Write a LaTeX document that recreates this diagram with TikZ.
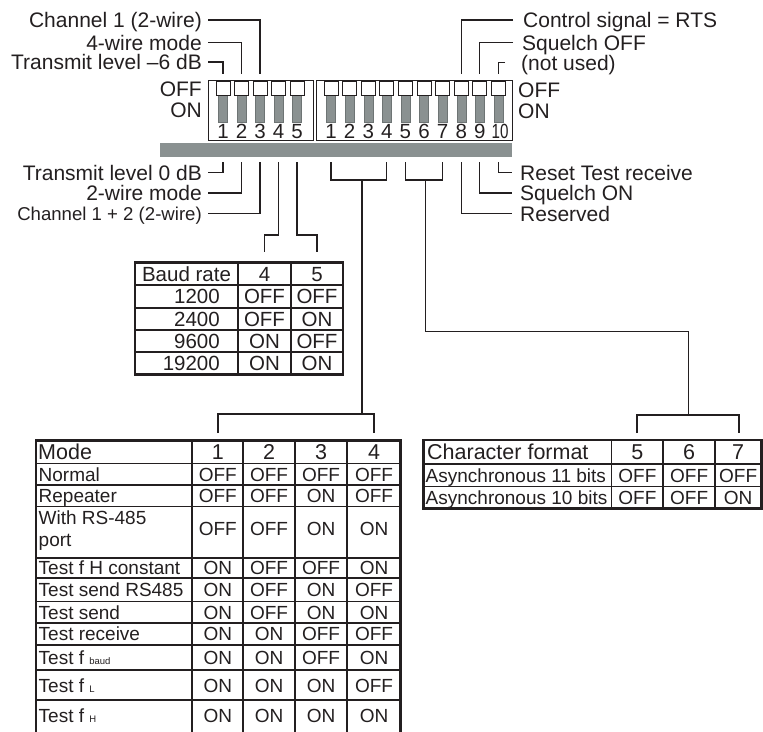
\documentclass[tikz,border=0pt]{standalone}
\usepackage{fontspec}
\setmainfont{Liberation Sans}
\definecolor{ink}{HTML}{231F20}
\definecolor{swgray}{HTML}{8A9191}
\newcommand\fsLab{\fontsize{21}{25}\selectfont}
\newcommand\fsSmallLab{\fontsize{18.6}{22}\selectfont}
\newcommand\fsNum{\fontsize{20.5}{24}\selectfont}
\newcommand\fsBaud{\fontsize{20.5}{24}\selectfont}
\newcommand\fsHead{\fontsize{21.5}{25}\selectfont}
\newcommand\fsCell{\fontsize{19}{23}\selectfont}
\newcommand\fsTiny{\fontsize{9.5}{11}\selectfont}
\tikzset{
  lab/.style={inner sep=0pt, font=\fsLab, text=ink},
  conn/.style={draw=ink, line width=1.3pt},
  boxline/.style={draw=ink, line width=0.9pt},
  swhead/.style={fill=white, draw=ink, line width=0.8pt},
  swlever/.style={fill=swgray, draw=swgray!80!black, line width=0.4pt},
  tabouter/.style={draw=ink, line width=2.5pt},
  tabinner/.style={draw=ink, line width=1.8pt},
  cell/.style={inner sep=0pt, anchor=base, text=ink},
  rowlab/.style={inner sep=0pt, anchor=base west, text=ink},
}
\begin{document}
\begin{tikzpicture}[x=1pt,y=-1pt]
\useasboundingbox (0,0) rectangle (763,731);

% ---------------- DIP switch blocks ----------------
\draw[boxline] (208,80) rectangle (313,140);
\draw[boxline] (316,80) rectangle (512,140);
\fill[swgray] (160,143) rectangle (512,157);

\foreach \x [count=\i] in {223,241.5,260,278.5,297}{
  \fill[swlever] (\x-4.5,95) rectangle (\x+4.5,122.5);
  \draw[swhead] (\x-7,81) rectangle (\x+7,95);
  \node[cell, font=\fsNum] (na\i) at (\x,138.2) {\i};
  \coordinate (aT\i) at (\x,74);
  \coordinate (aB\i) at (\x,162);
}
\foreach \x [count=\i] in {331,349.6,368.2,386.8,405.4,424,442.6,461.2,479.8,498.4}{
  \fill[swlever] (\x-4.5,95) rectangle (\x+4.5,122.5);
  \draw[swhead] (\x-7,81) rectangle (\x+7,95);
  \coordinate (bT\i) at (\x,74);
  \coordinate (bB\i) at (\x,162);
}
\foreach \x [count=\i] in {331,349.6,368.2,386.8,405.4,424,442.6,461.2,479.8}{
  \node[cell, font=\fsNum] (nb\i) at (\x,138.2) {\i};
}
\node[cell, font=\fsNum] (nb10) at (500,138.2) {\scalebox{0.74}[1]{10}};

\node[lab, anchor=base east] (offL) at (202,96.5) {OFF};
\node[lab, anchor=base east] (onL) at (202,117.5) {ON};
\node[lab, anchor=base west] (offR) at (518,97.5) {OFF};
\node[lab, anchor=base west] (onR) at (518,118.5) {ON};

% ---------------- labels, left ----------------
\node[lab, anchor=base east] (L1) at (202,27.5) {Channel 1 (2-wire)};
\node[lab, anchor=base east] (L2) at (202,50) {4-wire mode};
\node[lab, anchor=base east] (L3) at (202,69.5) {Transmit level –6 dB};
\node[lab, anchor=base east] (L4) at (202,180) {Transmit level 0 dB};
\node[lab, anchor=base east] (L5) at (202,200.5) {2-wire mode};
\node[lab, anchor=base east, font=\fsSmallLab] (L6) at (202,220.2) {Channel 1 + 2 (2-wire)};
\coordinate (cL1) at (208,20);
\coordinate (cL2) at (208,42.5);
\coordinate (cL3) at (208,62);
\coordinate (cL4) at (208,172.5);
\coordinate (cL5) at (208,193);
\coordinate (cL6) at (208,213.5);
\draw[conn] (cL1) -| (aT3);
\draw[conn] (cL2) -| (aT2);
\draw[conn] (cL3) -| (aT1);
\draw[conn] (aB1) |- (cL4);
\draw[conn] (aB2) |- (cL5);
\draw[conn] (aB3) |- (cL6);

% ---------------- labels, right ----------------
\node[lab, anchor=base west] (R1) at (523,27.5) {Control signal = RTS};
\node[lab, anchor=base west] (R2) at (522,50) {Squelch OFF};
\node[lab, anchor=base west] (R3) at (521,70) {(not used)};
\node[lab, anchor=base west] (R4) at (520,180) {Reset Test receive};
\node[lab, anchor=base west] (R5) at (520,200.5) {Squelch ON};
\node[lab, anchor=base west] (R6) at (520,221) {Reserved};
\coordinate (cR1) at (513,20);
\coordinate (cR2) at (513,42.5);
\coordinate (cR3) at (505,62.5);
\coordinate (cR4) at (512,172.5);
\coordinate (cR5) at (512,193);
\coordinate (cR6) at (512,213.5);
\draw[conn] (cR1) -| (bT8);
\draw[conn] (cR2) -| (bT9);
\draw[conn] (cR3) -| (bT10);
\draw[conn] (bB10) |- (cR4);
\draw[conn] (bB9) |- (cR5);
\draw[conn] (bB8) |- (cR6);

% ---------------- baud rate connectors ----------------
\coordinate (bd4) at (264.5,252);
\coordinate (bd5) at (317,252);
\draw[conn] (aB4) |- (264.5,235) -- (bd4);
\draw[conn] (aB5) |- (317,235) -- (bd5);

% ---------------- mode connectors ----------------
\coordinate (m1) at (218,433);
\coordinate (m4) at (374,433);
\coordinate (mstem) at (362,180);
\draw[conn] (bB1) |- (bB4 |- mstem) -- (bB4);
\draw[conn] (mstem) -- (362,414);
\draw[conn] (m1) |- (m4 |- 0,414) -- (m4);

% ---------------- character format connectors ----------------
\coordinate (c5) at (637,433);
\coordinate (c7) at (739,433);
\coordinate (cstem) at (425.5,180);
\draw[conn] (bB5) |- (bB7 |- cstem) -- (bB7);
\draw[conn] (cstem) |- (688.5,331.5) -- (688.5,415);
\draw[conn] (c5) |- (c7 |- 0,415) -- (c7);

% ---------------- baud rate table ----------------
\foreach \y in {285,307.7,330,352.3}{\draw[tabinner] (135,\y) -- (343,\y);}
\foreach \x in {238,291}{\draw[tabinner] (\x,262.3) -- (\x,374.3);}
\draw[tabouter] (135,262.3) rectangle (343,374.3);
\node[cell, font=\fsBaud] (bh0) at (186.5,281) {Baud rate};
\node[cell, font=\fsBaud] (bh4) at (264.5,281) {4};
\node[cell, font=\fsBaud] (bh5) at (317,281) {5};
\foreach \yc/\rate/\p/\q [count=\r] in {296.3/1200/OFF/OFF, 318.8/2400/OFF/ON, 341.1/9600/ON/OFF, 363.3/19200/ON/ON}{
  \node[inner sep=0pt, anchor=base east, text=ink, font=\fsBaud] (br\r) at (220,\yc+7.3) {\rate};
  \node[cell, font=\fsBaud] (bp\r) at (264.5,\yc+7.3) {\p};
  \node[cell, font=\fsBaud] (bq\r) at (317,\yc+7.3) {\q};
}

% ---------------- mode table ----------------
\foreach \y in {463.5,485,506.5,558,578,601.5,623,645,670,700}{\draw[tabinner] (36,\y) -- (400.7,\y);}
\foreach \x in {192.3,243.3,295,347.3}{\draw[tabinner] (\x,440.5) -- (\x,733);}
\draw[tabouter] (36,733) -- (36,440.5) -- (400.7,440.5) -- (400.7,733);
\node[rowlab, font=\fsHead] (mh0) at (38,459.5) {Mode};
\foreach \x/\t [count=\i] in {217.8/1,269.1/2,321.1/3,374/4}{
  \node[cell, font=\fsHead] (mh\i) at (\x,459.5) {\t};
}
\foreach \yc/\lab/\a/\b/\c/\d [count=\r] in {
  474.2/Normal/OFF/OFF/OFF/OFF,
  495.7/Repeater/OFF/OFF/ON/OFF,
  568/Test f H constant/ON/OFF/OFF/ON,
  589.7/Test send RS485/ON/OFF/ON/OFF,
  612.2/Test send/ON/OFF/ON/ON,
  634/Test receive/ON/ON/OFF/OFF,
  657.5/{Test f {\fsTiny baud}}/ON/ON/OFF/ON,
  686/{Test f {\fsTiny L}}/ON/ON/ON/OFF,
  715.5/{Test f {\fsTiny H}}/ON/ON/ON/ON}{
  \node[rowlab, font=\fsCell] (ml\r) at (38.5,\yc+6.8) {\lab};
  \node[cell, font=\fsCell] (ma\r) at (217.8,\yc+6.8) {\a};
  \node[cell, font=\fsCell] (mb\r) at (269.1,\yc+6.8) {\b};
  \node[cell, font=\fsCell] (mc\r) at (321.1,\yc+6.8) {\c};
  \node[cell, font=\fsCell] (md\r) at (374,\yc+6.8) {\d};
}
\node[rowlab, font=\fsCell] (mlx1) at (38.5,524.8) {With RS-485};
\node[rowlab, font=\fsCell] (mlx2) at (38.5,546.8) {port};
\node[cell, font=\fsCell] (max) at (217.8,535.8) {OFF};
\node[cell, font=\fsCell] (mbx) at (269.1,535.8) {OFF};
\node[cell, font=\fsCell] (mcx) at (321.1,535.8) {ON};
\node[cell, font=\fsCell] (mdx) at (374,535.8) {ON};

% ---------------- character format table ----------------
\foreach \y in {464,486.5}{\draw[tabinner] (423.3,\y) -- (761.5,\y);}
\foreach \x in {611.5,663.3,715}{\draw[tabinner] (\x,440) -- (\x,508.5);}
\draw[tabouter] (423.3,440) rectangle (761.5,508.5);
\node[rowlab, font=\fsHead] (ch0) at (427,459.7) {Character format};
\foreach \x/\t [count=\i] in {637.4/5,689.2/6,738.2/7}{
  \node[cell, font=\fsHead] (ch\i) at (\x,459.7) {\t};
}
\foreach \yc/\lab/\a/\b/\c [count=\r] in {
  475.2/Asynchronous 11 bits/OFF/OFF/OFF,
  497.5/Asynchronous 10 bits/OFF/OFF/ON}{
  \node[rowlab, font=\fsCell] (cl\r) at (425.5,\yc+6.8) {\lab};
  \node[cell, font=\fsCell] (ca\r) at (637.4,\yc+6.8) {\a};
  \node[cell, font=\fsCell] (cb\r) at (689.2,\yc+6.8) {\b};
  \node[cell, font=\fsCell] (cc\r) at (738.2,\yc+6.8) {\c};
}
\end{tikzpicture}
\end{document}
